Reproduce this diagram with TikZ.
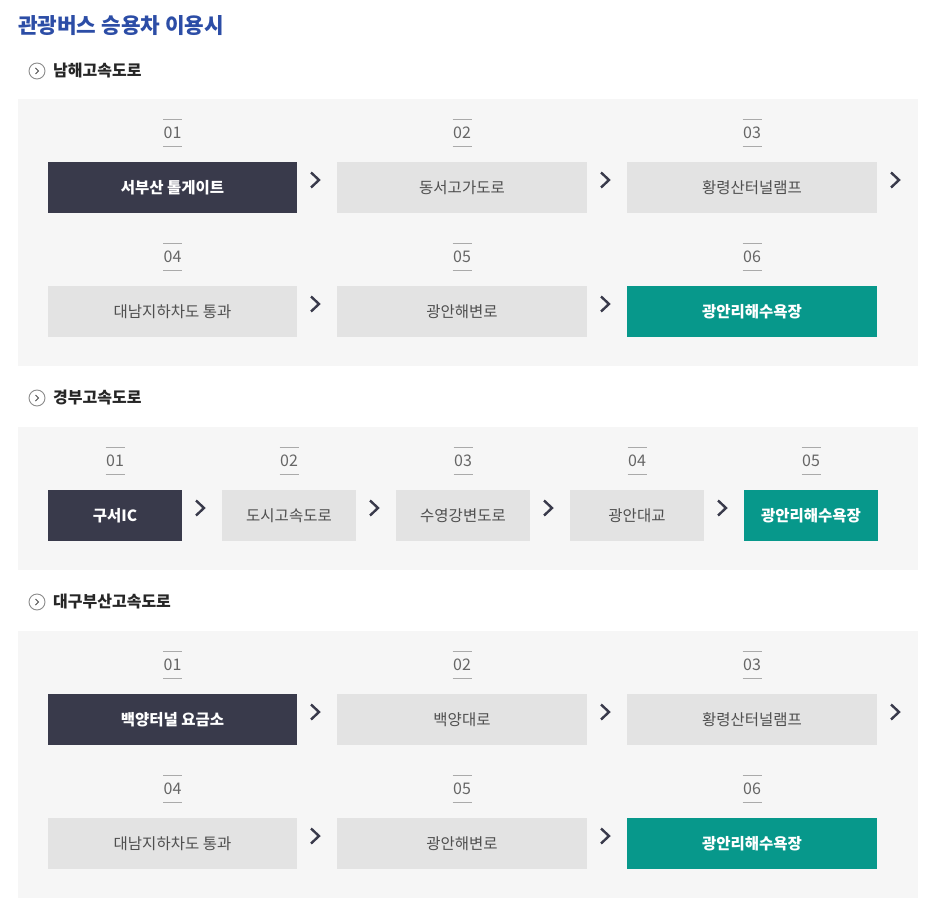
\documentclass[tikz,border=0pt]{standalone}
\usepackage{fontspec}
\setmainfont{Noto Sans CJK KR}
\definecolor{titleblue}{HTML}{2C4DA6}
\definecolor{panelbg}{HTML}{F6F6F6}
\definecolor{darkbox}{HTML}{393A4B}
\definecolor{lightbox}{HTML}{E3E3E3}
\definecolor{tealbox}{HTML}{07988B}
\definecolor{numgray}{HTML}{666666}
\definecolor{linegray}{HTML}{AAAAAA}
\definecolor{txtgray}{HTML}{4F4F4F}
\tikzset{
  panel/.style={fill=panelbg, draw=none},
  boxbase/.style={draw=none, minimum height=51pt, inner sep=0pt, font=\fontsize{15.5}{18}\selectfont},
  startbox/.style={boxbase, fill=darkbox, text=white, font=\fontsize{15.5}{18}\selectfont\bfseries},
  midbox/.style={boxbase, fill=lightbox, text=txtgray},
  endbox/.style={boxbase, fill=tealbox, text=white, font=\fontsize{15.5}{18}\selectfont\bfseries},
  numtxt/.style={text=numgray, inner sep=0pt, font=\fontsize{16}{18}\selectfont},
  numline/.style={draw=linegray, line width=0.8pt},
  chevron/.style={draw=darkbox, line width=2.4pt, miter limit=10},
  hdr/.style={anchor=west, inner sep=0pt, text=black!85, font=\fontsize{16}{18}\selectfont\bfseries},
  hdricon/.style={draw=black!45, line width=0.9pt},
}
\newcommand\numlab[4]{%
  \node[numtxt] (#1) at (#2,#3) {#4};
  \draw[numline] (#2-9.5,#3-13.5) -- (#2+9.5,#3-13.5);
  \draw[numline] (#2-9.5,#3+13) -- (#2+9.5,#3+13);
}
\newcommand\chev[3]{%
  \coordinate (#1) at (#2,#3);
  \draw[chevron] ([shift={(-4,-7.5)}]#1) -- ([shift={(4,0)}]#1) -- ([shift={(-4,7.5)}]#1);
}
\newcommand\hdrline[4]{%
  \node[hdricon, circle, minimum size=16pt, inner sep=0pt] (#1) at (37,#2) {};
  \draw[draw=black!70, line width=1pt] ([shift={(-1.5,-3)}]#1.center) -- ([shift={(1.5,0)}]#1.center) -- ([shift={(-1.5,3)}]#1.center);
  \node[hdr] (#3) at (53,#2) {#4};
}
\begin{document}
\begin{tikzpicture}[x=1pt,y=-1pt]
\useasboundingbox (0,0) rectangle (931,912);
\fill[white] (0,0) rectangle (931,912);
% title
\node[anchor=west, inner sep=0pt, text=titleblue, font=\fontsize{21.3}{24}\selectfont\bfseries] (title) at (18,26) {관광버스 승용차 이용시};

% ---------- section 1
\hdrline{ic1}{71}{h1}{남해고속도로}
\fill[panel] (18,99) rectangle (918,366);
\numlab{n11}{172.5}{133}{01}
\numlab{n12}{462}{133}{02}
\numlab{n13}{752}{133}{03}
\node[startbox, minimum width=249pt] (a1) at (172.5,187.5) {서부산 톨게이트};
\node[midbox, minimum width=250pt] (a2) at (462,187.5) {동서고가도로};
\node[midbox, minimum width=250pt] (a3) at (752,187.5) {황령산터널램프};
\chev{c11}{315}{180}
\chev{c12}{605}{180}
\chev{c13}{895}{180}
\numlab{n14}{172.5}{257}{04}
\numlab{n15}{462}{257}{05}
\numlab{n16}{752}{257}{06}
\node[midbox, minimum width=249pt] (a4) at (172.5,311.5) {대남지하차도 통과};
\node[midbox, minimum width=250pt] (a5) at (462,311.5) {광안해변로};
\node[endbox, minimum width=250pt] (a6) at (752,311.5) {광안리해수욕장};
\chev{c14}{315}{304}
\chev{c15}{605}{304}

% ---------- section 2
\hdrline{ic2}{398}{h2}{경부고속도로}
\fill[panel] (18,427) rectangle (918,570);
\numlab{n21}{115}{461}{01}
\numlab{n22}{289}{461}{02}
\numlab{n23}{463}{461}{03}
\numlab{n24}{637}{461}{04}
\numlab{n25}{811}{461}{05}
\node[startbox, minimum width=134pt] (b1) at (115,515.5) {구서IC};
\node[midbox, minimum width=134pt] (b2) at (289,515.5) {도시고속도로};
\node[midbox, minimum width=134pt] (b3) at (463,515.5) {수영강변도로};
\node[midbox, minimum width=134pt] (b4) at (637,515.5) {광안대교};
\node[endbox, minimum width=134pt] (b5) at (811,515.5) {광안리해수욕장};
\chev{c21}{200}{508}
\chev{c22}{374}{508}
\chev{c23}{548}{508}
\chev{c24}{722}{508}

% ---------- section 3
\hdrline{ic3}{602}{h3}{대구부산고속도로}
\fill[panel] (18,631) rectangle (918,898);
\numlab{n31}{172.5}{665}{01}
\numlab{n32}{462}{665}{02}
\numlab{n33}{752}{665}{03}
\node[startbox, minimum width=249pt] (d1) at (172.5,719.5) {백양터널 요금소};
\node[midbox, minimum width=250pt] (d2) at (462,719.5) {백양대로};
\node[midbox, minimum width=250pt] (d3) at (752,719.5) {황령산터널램프};
\chev{c31}{315}{712}
\chev{c32}{605}{712}
\chev{c33}{895}{712}
\numlab{n34}{172.5}{789}{04}
\numlab{n35}{462}{789}{05}
\numlab{n36}{752}{789}{06}
\node[midbox, minimum width=249pt] (d4) at (172.5,843.5) {대남지하차도 통과};
\node[midbox, minimum width=250pt] (d5) at (462,843.5) {광안해변로};
\node[endbox, minimum width=250pt] (d6) at (752,843.5) {광안리해수욕장};
\chev{c34}{315}{836}
\chev{c35}{605}{836}
\end{tikzpicture}
\end{document}
